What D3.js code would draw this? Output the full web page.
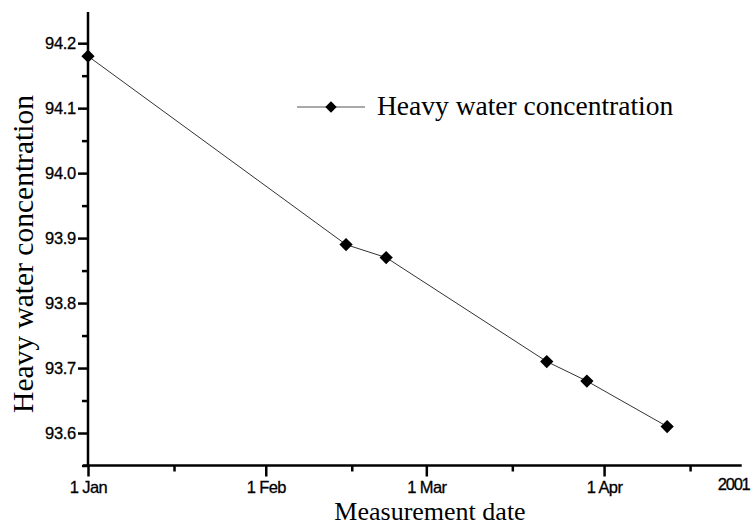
<!DOCTYPE html>
<html>
<head>
<meta charset="utf-8">
<script src="https://cdn.jsdelivr.net/npm/d3@7"></script>
<style>
  html, body { margin: 0; padding: 0; background: #fff; }
  svg { display: block; }
  .tick text { font-family: "Liberation Sans", Arial, sans-serif; }
</style>
</head>
<body>
<svg id="chart" width="752" height="528"></svg>
<script>
// Measurement dates (2001) and heavy water concentration readings
const dates = ["2001-01-01", "2001-02-15", "2001-02-22", "2001-03-22", "2001-03-29", "2001-04-12"];
const concentration = [94.18, 93.89, 93.87, 93.71, 93.68, 93.61];

// Axis ticks
const yMajorTicks = [93.6, 93.7, 93.8, 93.9, 94.0, 94.1, 94.2];
const yMinorTicks = [93.55, 93.65, 93.75, 93.85, 93.95, 94.05, 94.15];
const xMajorTicks = ["2001-01-01", "2001-02-01", "2001-03-01", "2001-04-01"];
const xMinorTicks = ["2001-01-16", "2001-02-16", "2001-03-16", "2001-04-16"];
const xTickLabels = ["1 Jan", "1 Feb", "1 Mar", "1 Apr"];
const yearLabel = "2001";
const xDomain = ["2001-01-01", "2001-04-25"];
const yDomain = [93.55, 94.248];

const seriesName = "Heavy water concentration";
const xTitle = "Measurement date";
const yTitle = "Heavy water concentration";

const parse = d3.utcParse("%Y-%m-%d");
const points = dates.map((d, i) => ({ date: parse(d), value: concentration[i] }));

const svg = d3.select("#chart");
const plotLeft = 88, plotRight = 741.7, plotTop = 12, plotBottom = 465.5;

const x = d3.scaleUtc().domain(xDomain.map(parse)).range([plotLeft, plotRight]);
const y = d3.scaleLinear().domain(yDomain).range([plotBottom, plotTop]);

const axisStroke = 2.5;

// Y axis: major ticks with labels
const yAxis = svg.append("g")
  .attr("transform", `translate(${plotLeft},0)`)
  .call(d3.axisLeft(y).tickValues(yMajorTicks).tickSize(10).tickPadding(2)
    .tickFormat(d3.format(".1f")));
yAxis.select(".domain").remove();
yAxis.selectAll(".tick line").attr("stroke", "#000").attr("stroke-width", axisStroke);
yAxis.selectAll(".tick text")
  .attr("font-size", 16.5).attr("letter-spacing", -0.3).attr("fill", "#000")
  .attr("stroke", "#000").attr("stroke-width", 0.3);

// Y axis: minor ticks
const yMinor = svg.append("g")
  .attr("transform", `translate(${plotLeft},0)`)
  .call(d3.axisLeft(y).tickValues(yMinorTicks).tickSize(6).tickFormat(""));
yMinor.select(".domain").remove();
yMinor.selectAll(".tick line").attr("stroke", "#000").attr("stroke-width", axisStroke);

// X axis: major ticks with labels
const xAxis = svg.append("g")
  .attr("transform", `translate(0,${plotBottom})`)
  .call(d3.axisBottom(x).tickValues(xMajorTicks.map(parse)).tickSize(11).tickPadding(5)
    .tickFormat((d, i) => xTickLabels[i]));
xAxis.select(".domain").remove();
xAxis.selectAll(".tick line").attr("stroke", "#000").attr("stroke-width", axisStroke);
xAxis.selectAll(".tick text")
  .attr("font-size", 16.5).attr("letter-spacing", -0.6).attr("fill", "#000")
  .attr("stroke", "#000").attr("stroke-width", 0.3);

// X axis: minor ticks
const xMinor = svg.append("g")
  .attr("transform", `translate(0,${plotBottom})`)
  .call(d3.axisBottom(x).tickValues(xMinorTicks.map(parse)).tickSize(6).tickFormat(""));
xMinor.select(".domain").remove();
xMinor.selectAll(".tick line").attr("stroke", "#000").attr("stroke-width", axisStroke);

// Axis lines
svg.append("line")
  .attr("x1", plotLeft).attr("x2", plotLeft).attr("y1", plotTop).attr("y2", plotBottom + 1)
  .attr("stroke", "#000").attr("stroke-width", axisStroke);
svg.append("line")
  .attr("x1", plotLeft - 5).attr("x2", plotRight).attr("y1", plotBottom).attr("y2", plotBottom)
  .attr("stroke", "#000").attr("stroke-width", axisStroke);

// Year label at the end of the time axis
svg.append("text")
  .attr("x", plotRight - 24).attr("y", plotBottom + 24)
  .attr("font-family", "Liberation Sans, Arial, sans-serif")
  .attr("font-size", 16.5).attr("letter-spacing", -1.2)
  .attr("stroke", "#000").attr("stroke-width", 0.3)
  .text(yearLabel);

// Axis titles
svg.append("text")
  .attr("x", 430).attr("y", 520)
  .attr("text-anchor", "middle")
  .attr("font-family", "Liberation Serif, Times New Roman, serif")
  .attr("font-size", 26)
  .text(xTitle);

svg.append("text")
  .attr("transform", "translate(33,254) rotate(-90)")
  .attr("text-anchor", "middle")
  .attr("font-family", "Liberation Serif, Times New Roman, serif")
  .attr("font-size", 29.5)
  .text(yTitle);

// Data line
const line = d3.line().x(d => x(d.date)).y(d => y(d.value));
svg.append("path")
  .datum(points)
  .attr("d", line)
  .attr("fill", "none")
  .attr("stroke", "#333")
  .attr("stroke-width", 1);

// Diamond markers
const diamond = d3.symbol().type(d3.symbolSquare).size(88);
svg.selectAll(".marker")
  .data(points)
  .join("path")
  .attr("class", "marker")
  .attr("d", diamond)
  .attr("transform", d => `translate(${x(d.date)},${y(d.value)}) rotate(45)`)
  .attr("fill", "#000");

// Legend
const legend = svg.append("g").attr("transform", "translate(297,107)");
legend.append("line")
  .attr("x1", 0).attr("x2", 68).attr("y1", 0).attr("y2", 0)
  .attr("stroke", "#555").attr("stroke-width", 1.2);
legend.append("path")
  .attr("d", d3.symbol().type(d3.symbolSquare).size(65))
  .attr("transform", "translate(34,0) rotate(45)")
  .attr("fill", "#000");
legend.append("text")
  .attr("x", 80).attr("y", 8)
  .attr("font-family", "Liberation Serif, Times New Roman, serif")
  .attr("font-size", 27.5)
  .text(seriesName);
</script>
</body>
</html>
